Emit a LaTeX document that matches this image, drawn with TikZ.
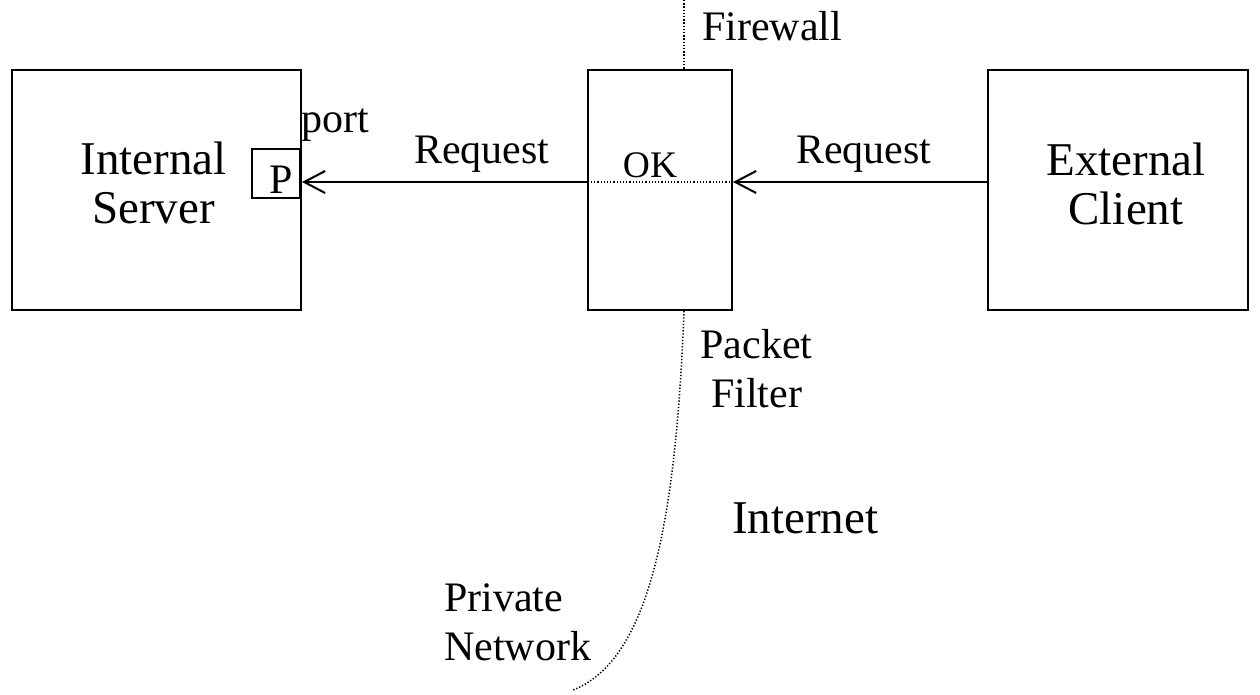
\documentclass[tikz,border=0pt]{standalone}
\usepackage{fontspec}
\setmainfont{Liberation Serif}
\usetikzlibrary{arrows.meta}
\begin{document}
\begin{tikzpicture}[x=1pt,y=-1pt,
  box/.style={draw, line width=2pt, inner sep=0pt},
  bigtxt/.style={font=\fontsize{47}{49}\selectfont, inner sep=0pt, align=center},
  smalltxt/.style={font=\fontsize{42}{49}\selectfont, inner sep=0pt},
  oktxt/.style={font=\fontsize{37.5}{40}\selectfont, inner sep=0pt},
  wall/.style={line width=1.5pt, dash pattern=on 1.3pt off 1.9pt},
  reqarrow/.style={line width=2pt, -{Straight Barb[length=21pt, width=22pt, line width=2pt]}}
]
\path[use as bounding box] (0,0) rectangle (1260,694);
% boxes
\node[box, minimum width=289pt, minimum height=240pt] (server) at (156.5,190) {};
\node[box, minimum width=144pt, minimum height=240pt] (fw) at (660,190) {};
\node[box, minimum width=260pt, minimum height=240pt] (client) at (1118,190) {};
\node[draw, line width=1.6pt, minimum width=48pt, minimum height=49pt, inner sep=0pt] (port) at (276,173.5) {};
% texts
\node[bigtxt] (srvtxt) at (153.5,182.8) {Internal\\Server};
\node[bigtxt] (clitxt) at (1126,183.8) {External\\Client};
\node[smalltxt, anchor=base] (ptxt) at (281,193) {P};
\node[smalltxt, anchor=base west] (porttxt) at (301,132) {port};
\node[smalltxt, anchor=base west] (req1) at (414,163) {Request};
\node[smalltxt, anchor=base west] (req2) at (796,163) {Request};
\node[oktxt, anchor=base] (ok) at (650,177) {OK};
\node[smalltxt, anchor=base west] (fwtxt) at (702,40) {Firewall};
\node[smalltxt, align=center] (pf) at (756.5,368.3) {Packet\\Filter};
\node[bigtxt, anchor=base west] (inet) at (732,533) {Internet};
\node[smalltxt, align=left, anchor=west] (pn) at (444,622.3) {Private\\Network};
% firewall line
\coordinate (fwtop) at (684,0);
\coordinate (fwend) at (573,690);
\coordinate (lvl) at (0,182);
\draw[wall] (fwtop) -- (fwtop |- fw.north);
\draw[wall] (fwtop |- fw.south) .. controls (676,520) and (650,660) .. (fwend);
% arrows
\draw[reqarrow] (client.west |- lvl) -- (fw.east |- lvl);
\draw[wall] (fw.east |- lvl) -- (fw.west |- lvl);
\draw[reqarrow] (fw.west |- lvl) -- (server.east |- lvl);
\end{tikzpicture}
\end{document}
